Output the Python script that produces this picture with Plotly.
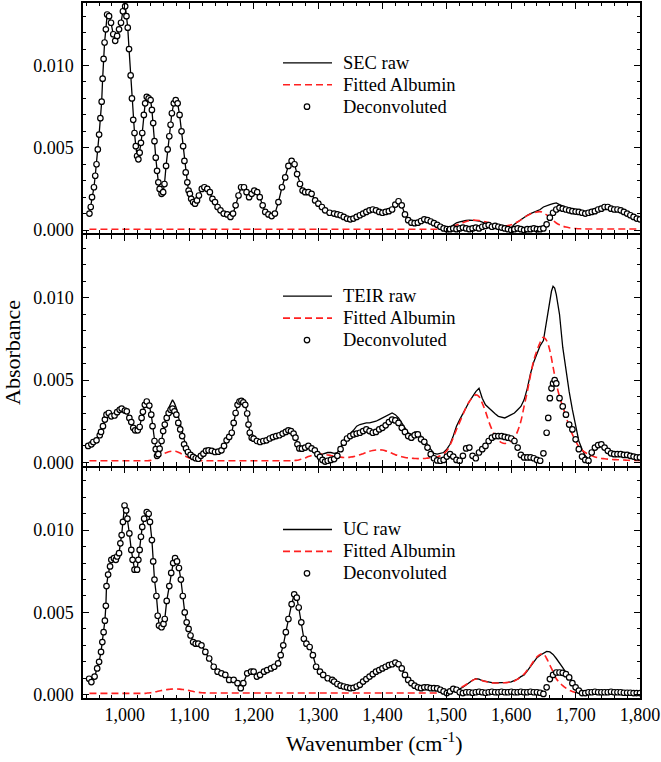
import plotly.graph_objects as go

# ---------------- data (absorbance in units of 1e-3) -------------
# common wavenumber grid used for the fitted albumin curves (cm^-1)
grid = list(range(945, 1801, 5))

# --- SEC panel: densely read region (945-1318) followed by 5 cm^-1 grid ---
sec_x = [945, 947, 949, 952, 954, 956, 958, 960, 962, 964, 965.5, 967, 968.5, 970.5,
         972.5, 975.5, 978.5, 982, 985, 988, 991, 994, 997, 1000.5, 1002.5, 1004.5,
         1006.5, 1009, 1011, 1013, 1015, 1017, 1019, 1021, 1023, 1025, 1027, 1029.5,
         1031.5, 1034, 1037, 1040, 1042, 1044, 1046, 1048, 1050, 1052, 1054, 1057,
         1059.5, 1061.5, 1064, 1066.5, 1069, 1071, 1073, 1076, 1079, 1082, 1085, 1088,
         1090.5, 1092.5, 1094.5, 1097, 1099, 1101, 1103, 1106, 1109, 1112, 1115,
         1119.5, 1123.5, 1128, 1132, 1136, 1140, 1144, 1148.5, 1153.5, 1159, 1164,
         1168, 1172, 1176.5, 1180.5, 1185, 1189, 1193, 1197, 1201, 1205.5, 1209.5,
         1214, 1218, 1223, 1228, 1233, 1238.5, 1244, 1249, 1254, 1259, 1263.5, 1267.5,
         1272, 1276, 1280, 1285, 1290, 1295.5, 1300.5, 1306, 1311, 1318] + list(range(1325, 1801, 5))
sec_common = [
    1.0, 1.4, 2.0, 2.6, 3.3, 4.0, 4.9, 5.8, 6.8, 7.8, 9.2, 10.4, 11.4, 12.2,
    13.1, 13.0, 12.6, 11.9, 11.5, 11.8, 12.2, 12.6, 13.3, 13.6, 13.0, 12.3,
    11.0, 9.4, 8.0, 6.7, 5.9, 5.1, 4.5, 4.3, 4.7, 5.3, 5.9, 7.0,
    7.7, 8.1, 8.0, 7.9, 7.3, 6.5, 5.4, 4.4, 3.6, 2.9, 2.5, 2.2,
    2.3, 2.8, 3.9, 4.9, 5.7, 6.4, 7.1, 7.7, 7.9, 7.7, 7.0, 6.0,
    5.1, 4.2, 3.5, 2.9, 2.4, 2.2, 1.9, 1.7, 1.6, 1.8, 2.1,
    2.5, 2.6, 2.5, 2.3, 1.9, 1.7, 1.4, 1.2, 1.0, 0.95, 0.8,
    1.0, 1.5, 2.1, 2.6, 2.6, 2.3, 2.0, 2.2, 2.4, 2.3, 2.0,
    1.5, 1.1, 0.95, 0.85, 1.0, 1.7, 2.6, 3.2, 3.9, 4.2, 4.0, 3.4,
    2.8, 2.4, 2.3, 2.3, 2.2, 1.8, 1.6, 1.4, 1.2, 1.05]
sec_raw = sec_common + [
    1.0, 0.95, 0.9, 0.8,
    0.7, 0.65, 0.7, 0.8, 0.9, 1.0, 1.1, 1.2, 1.25, 1.2,
    1.1, 1.05, 1.1, 1.15, 1.25, 1.55, 1.75, 1.5, 0.95, 0.6,
    0.45, 0.42, 0.45, 0.55, 0.65, 0.6, 0.52, 0.42, 0.32, 0.2,
    0.1, 0.1, 0.15, 0.3, 0.44, 0.5, 0.55, 0.58, 0.6, 0.6,
    0.57, 0.55, 0.47, 0.4, 0.36, 0.33, 0.3, 0.27, 0.22, 0.18,
    0.15, 0.15, 0.35, 0.5, 0.65, 0.78, 0.9, 1.0, 1.08, 1.15,
    1.25, 1.4, 1.5, 1.55, 1.6, 1.65, 1.55, 1.45, 1.35, 1.25,
    1.18, 1.12, 1.1, 1.05, 1.0, 1.05, 1.1, 1.15, 1.25, 1.3,
    1.4, 1.4, 1.3, 1.25, 1.25, 1.2, 1.1, 1.0, 0.9, 0.8,
    0.7, 0.65]
sec_decon = sec_common + [
    1.0, 0.95, 0.9, 0.8,
    0.7, 0.65, 0.7, 0.8, 0.9, 1.0, 1.1, 1.2, 1.25, 1.2,
    1.1, 1.05, 1.1, 1.15, 1.25, 1.55, 1.75, 1.5, 0.95, 0.6,
    0.45, 0.42, 0.45, 0.55, 0.65, 0.6, 0.52, 0.42, 0.32, 0.2,
    0.1, 0.05, 0.05, 0.1, 0.05, 0.1, 0.15, 0.1, 0.05, 0.1,
    0.15, 0.1, 0.2, 0.25, 0.3, 0.2, 0.25, 0.2, 0.15, 0.1,
    0.05, 0.0, 0.05, 0.1, 0.05, 0.0, 0.05, 0.05, 0.1, 0.05,
    0.05, 0.1, 0.35, 0.75, 1.05, 1.25, 1.35, 1.3, 1.25, 1.2,
    1.15, 1.12, 1.1, 1.05, 1.0, 1.05, 1.1, 1.15, 1.25, 1.3,
    1.4, 1.4, 1.3, 1.25, 1.25, 1.2, 1.1, 1.0, 0.9, 0.8,
    0.7, 0.65]
sec_albumin = [
    0.05, 0.05, 0.05, 0.05, 0.05, 0.05, 0.05, 0.05, 0.05, 0.05,
    0.05, 0.05, 0.05, 0.05, 0.05, 0.05, 0.05, 0.05, 0.05, 0.05,
    0.05, 0.05, 0.05, 0.05, 0.05, 0.05, 0.05, 0.05, 0.05, 0.05,
    0.05, 0.05, 0.05, 0.05, 0.05, 0.05, 0.05, 0.05, 0.05, 0.05,
    0.05, 0.05, 0.05, 0.05, 0.05, 0.05, 0.05, 0.05, 0.05, 0.05,
    0.05, 0.05, 0.05, 0.05, 0.05, 0.05, 0.05, 0.05, 0.05, 0.05,
    0.05, 0.05, 0.05, 0.05, 0.05, 0.05, 0.05, 0.05, 0.05, 0.05,
    0.05, 0.05, 0.05, 0.05, 0.05, 0.05, 0.05, 0.05, 0.05, 0.05,
    0.05, 0.05, 0.05, 0.05, 0.05, 0.05, 0.05, 0.05, 0.05, 0.05,
    0.05, 0.05, 0.05, 0.05, 0.05, 0.05, 0.05, 0.05, 0.05, 0.05,
    0.05, 0.05, 0.05, 0.05, 0.05, 0.05, 0.05, 0.05, 0.05, 0.06,
    0.08, 0.1, 0.15, 0.22, 0.3, 0.38, 0.45, 0.52, 0.57, 0.6,
    0.6, 0.58, 0.54, 0.5, 0.45, 0.4, 0.35, 0.3, 0.26, 0.25,
    0.27, 0.32, 0.4, 0.5, 0.62, 0.75, 0.88, 0.98, 1.05, 1.1,
    1.12, 1.05, 0.92, 0.75, 0.58, 0.43, 0.32, 0.24, 0.18, 0.14,
    0.11, 0.09, 0.08, 0.07, 0.07, 0.06, 0.06, 0.06, 0.06, 0.06,
    0.06, 0.06, 0.06, 0.06, 0.06, 0.06, 0.06, 0.06, 0.06, 0.06,
    0.06, 0.06]

# --- TEIR panel: densely read region (943-1315), 5 cm^-1 grid, extra readings at 1,655-1,670 ---
teir_x = [943, 948, 951, 956, 961, 963, 966, 969, 971.5, 975,
          979, 984, 988, 992, 995, 1000, 1003, 1007, 1010, 1013,
          1016, 1020, 1023, 1026, 1028, 1031, 1034, 1038, 1041, 1043,
          1046, 1048, 1050, 1052, 1054, 1057, 1059.5, 1062, 1065, 1068,
          1071, 1074, 1077, 1080, 1083, 1086, 1089, 1092, 1095, 1098,
          1102, 1106, 1110, 1114, 1118, 1122, 1126, 1130, 1135, 1140,
          1145, 1150, 1154, 1158, 1162, 1166, 1169, 1172, 1175, 1178,
          1181, 1184, 1187, 1190, 1192, 1194, 1197, 1200, 1205, 1210,
          1215, 1220, 1225, 1230, 1235, 1240, 1245, 1250, 1254, 1258,
          1262, 1265, 1268, 1271, 1275, 1280, 1285, 1290, 1295, 1299,
          1303, 1307, 1311, 1315] + list(range(1320, 1651, 5)) + \
         [1655, 1657.5, 1660, 1662.5, 1665, 1667.5, 1670] + list(range(1675, 1801, 5))
teir_raw = [
    1.0, 1.1, 1.24, 1.34, 1.65, 1.85, 2.2, 2.6, 2.9, 3.0,
    2.8, 2.85, 3.05, 3.2, 3.27, 3.15, 3.1, 2.7, 2.45, 2.1,
    1.95, 1.95, 2.15, 2.7, 3.07, 3.5, 3.7, 3.45, 2.9, 2.2,
    1.3, 0.8, 0.4, 0.5, 0.83, 1.3, 1.9, 2.4, 2.9, 3.3,
    3.6, 3.8, 3.6, 3.3, 2.8, 2.4, 1.9, 1.4, 1.0, 0.7,
    0.5, 0.33, 0.25, 0.22, 0.4, 0.53, 0.7, 0.73, 0.7, 0.63,
    0.65, 0.73, 1.0, 1.34, 1.55, 1.8, 2.4, 3.0, 3.5, 3.7,
    3.74, 3.65, 3.5, 2.97, 2.3, 1.8, 1.5, 1.44, 1.3, 1.24,
    1.3, 1.34, 1.45, 1.54, 1.6, 1.65, 1.75, 1.85, 1.95, 1.9,
    1.75, 1.5, 1.1, 0.85, 0.83, 0.9, 1.0, 0.85, 0.73, 0.55,
    0.5, 0.5, 0.55, 0.6,
    0.6, 0.55, 0.6, 0.9, 1.3,
    1.55, 1.75, 1.95, 2.2, 2.3, 2.35, 2.4, 2.4, 2.45, 2.5,
    2.6, 2.7, 2.8, 2.9, 3.0, 2.9, 2.7, 2.4, 2.1, 1.8,
    1.7, 1.85, 1.85, 1.6, 1.4, 1.1, 0.8, 0.55, 0.5, 0.55,
    0.6, 0.8, 1.1, 1.6, 2.2, 2.6, 3.0, 3.3, 3.7, 4.0,
    4.3, 4.5, 3.9, 3.5, 3.3, 3.1, 2.95, 2.8, 2.75, 2.7,
    2.8, 2.9, 3.0, 3.2, 3.4, 3.8, 4.5, 5.4, 6.1, 6.6,
    7.1, 7.4,
    8.7, 9.3, 9.9, 10.4, 10.7, 10.6, 10.2,
    9.0, 7.0, 5.6, 4.3,
    3.2, 2.2, 1.3, 0.8, 0.4, 0.2, 0.6, 0.9, 1.05, 1.1,
    0.9, 0.7, 0.55, 0.5, 0.5, 0.5, 0.45, 0.45, 0.4, 0.35,
    0.3, 0.3]
teir_decon = [
    1.0, 1.1, 1.24, 1.34, 1.65, 1.85, 2.2, 2.6, 2.9, 3.0,
    2.8, 2.85, 3.05, 3.2, 3.27, 3.15, 3.1, 2.7, 2.45, 2.1,
    1.95, 1.95, 2.15, 2.7, 3.07, 3.5, 3.7, 3.45, 2.9, 2.2,
    1.3, 0.8, 0.4, 0.5, 0.83, 1.3, 1.9, 2.3, 2.7, 3.0,
    3.2, 3.27, 3.1, 2.9, 2.4, 2.0, 1.6, 1.1, 0.85, 0.63,
    0.45, 0.33, 0.25, 0.22, 0.4, 0.53, 0.7, 0.73, 0.7, 0.63,
    0.65, 0.73, 1.0, 1.34, 1.55, 1.8, 2.4, 3.0, 3.5, 3.7,
    3.74, 3.65, 3.5, 2.97, 2.3, 1.8, 1.5, 1.44, 1.3, 1.24,
    1.3, 1.34, 1.45, 1.54, 1.6, 1.65, 1.75, 1.85, 1.95, 1.9,
    1.75, 1.5, 1.1, 0.85, 0.83, 0.9, 1.0, 0.85, 0.73, 0.5,
    0.33, 0.15, 0.05, 0.1,
    0.15, 0.2, 0.4, 0.8, 1.2,
    1.45, 1.6, 1.7, 1.75, 1.8, 1.9, 2.0, 1.9, 1.8, 1.85,
    2.0, 2.1, 2.25, 2.45, 2.6, 2.55, 2.4, 2.1, 1.85, 1.6,
    1.5, 1.65, 1.7, 1.4, 1.25, 0.9, 0.5, 0.25, 0.12, 0.1,
    0.15, 0.35, 0.5, 0.35, 0.15, 0.1, 0.4, 0.85, 0.9, 0.4,
    0.25, 0.6, 0.8, 1.0, 1.3, 1.5, 1.6, 1.6, 1.6, 1.55,
    1.5, 1.45, 1.3, 0.9, 0.45, 0.3, 0.3, 0.3, 0.25, 0.15,
    0.1, 0.55,
    1.8, 2.7, 3.9, 4.5, 4.8, 5.0, 4.8,
    3.9, 3.4, 2.9, 2.3,
    2.0, 1.4, 0.8, 0.35, 0.15, 0.1, 0.6, 0.9, 1.05, 1.1,
    0.9, 0.7, 0.55, 0.5, 0.5, 0.5, 0.45, 0.45, 0.4, 0.35,
    0.3, 0.3]
teir_albumin = [
    0.1, 0.1, 0.1, 0.1, 0.1, 0.1, 0.1, 0.1, 0.1, 0.1,
    0.1, 0.1, 0.1, 0.1, 0.1, 0.1, 0.1, 0.1, 0.1, 0.12,
    0.18, 0.28, 0.4, 0.52, 0.6, 0.66, 0.68, 0.66, 0.58, 0.47,
    0.36, 0.27, 0.2, 0.15, 0.12, 0.1, 0.1, 0.1, 0.1, 0.1,
    0.1, 0.1, 0.1, 0.1, 0.1, 0.1, 0.1, 0.1, 0.1, 0.1,
    0.1, 0.1, 0.1, 0.1, 0.1, 0.1, 0.1, 0.1, 0.1, 0.1,
    0.1, 0.1, 0.1, 0.1, 0.12, 0.15, 0.2, 0.27, 0.35, 0.42,
    0.47, 0.5, 0.5, 0.48, 0.45, 0.42, 0.38, 0.35, 0.32, 0.3,
    0.3, 0.32, 0.35, 0.4, 0.46, 0.53, 0.6, 0.67, 0.72, 0.75,
    0.76, 0.75, 0.7, 0.63, 0.55, 0.47, 0.4, 0.34, 0.3, 0.27,
    0.25, 0.24, 0.23, 0.23, 0.24, 0.26, 0.28, 0.3, 0.33, 0.4,
    0.52, 0.7, 1.05, 1.5, 2.0, 2.45, 2.9, 3.35, 3.7, 3.95,
    4.1, 4.0, 3.6, 3.1, 2.5, 2.0, 1.6, 1.35, 1.2, 1.15,
    1.2, 1.3, 1.5, 1.9, 2.5, 3.4, 4.3, 5.3, 6.2, 6.8,
    7.3, 7.6, 7.4, 6.8, 5.8, 4.8, 4.0, 3.4, 2.8, 2.2,
    1.7, 1.3, 0.95, 0.75, 0.6, 0.5, 0.4, 0.33, 0.28, 0.24,
    0.22, 0.2, 0.18, 0.17, 0.16, 0.15, 0.14, 0.13, 0.12, 0.12,
    0.12, 0.12]

# --- UC panel: densely read region (944-1322) followed by 5 cm^-1 grid ---
uc_x = [944.5, 948, 953, 957, 960, 963, 965, 967, 969, 970.5, 971.5, 974, 977, 979,
        983, 986, 988, 991, 993, 995, 997, 999.5, 1002, 1004, 1007, 1010, 1012, 1015,
        1019, 1021, 1023, 1025, 1027, 1030, 1034, 1037, 1039, 1042, 1044, 1046, 1049,
        1051, 1053, 1057, 1060, 1062, 1065, 1069, 1072, 1075, 1078, 1081, 1084, 1087,
        1090, 1093, 1096, 1099, 1102, 1106, 1110, 1114, 1119, 1125, 1131, 1138, 1144,
        1150, 1156, 1162, 1169, 1175, 1180, 1184, 1190, 1196, 1200, 1205, 1210, 1216,
        1221, 1227, 1232, 1238, 1242, 1246, 1250, 1254, 1259, 1263, 1267, 1270, 1274,
        1278, 1282, 1287, 1292, 1297, 1303, 1308, 1315, 1322] + list(range(1325, 1801, 5))
uc_common = [
    0.97, 0.77, 1.1, 1.6, 2.0, 2.6, 3.2, 3.8, 4.5, 5.4, 6.6, 7.3, 7.8, 8.2,
    8.3, 8.2, 8.4, 8.6, 9.2, 9.7, 10.5, 11.5, 11.2, 10.7, 9.8, 8.8, 8.2, 7.6,
    7.6, 8.2, 8.8, 9.6, 10.2, 10.7, 11.1, 11.0, 10.5, 9.4, 8.1, 7.0, 6.0,
    4.8, 4.2, 4.1, 4.3, 4.6, 5.7, 6.6, 7.4, 8.0, 8.3, 8.1, 7.7, 7.0,
    6.0, 5.0, 4.4, 4.0, 3.6, 3.2, 3.1, 3.1, 3.0, 2.6, 2.2, 1.7, 1.4,
    1.3, 1.2, 0.9, 0.9, 0.7, 0.4, 0.7, 1.3, 1.4, 1.4, 1.1, 1.2, 1.4,
    1.5, 1.6, 1.7, 1.9, 2.4, 3.0, 3.8, 4.6, 5.5, 6.1, 5.9, 5.3, 4.4,
    3.4, 3.1, 2.9, 2.4, 1.7, 1.4, 1.2, 1.0, 0.9]
uc_tail_common = [
    0.8, 0.65, 0.55, 0.5,
    0.45, 0.4, 0.42, 0.5, 0.6, 0.8, 0.95, 1.1, 1.25, 1.4,
    1.5, 1.6, 1.7, 1.8, 1.85, 1.95, 1.85, 1.6, 1.2, 0.9,
    0.7, 0.55, 0.45, 0.4, 0.45, 0.45, 0.4, 0.4, 0.38, 0.3,
    0.2, 0.1, 0.2, 0.35, 0.3]
uc_raw = uc_common + uc_tail_common + [
    0.35, 0.45, 0.6, 0.75, 0.88,
    0.97, 0.95, 0.85, 0.8, 0.75, 0.73, 0.72, 0.72, 0.73, 0.73,
    0.75, 0.78, 0.85, 0.95, 1.1, 1.2, 1.45, 1.7, 2.0, 2.25,
    2.4, 2.5, 2.63, 2.6, 2.45, 2.2, 1.95, 1.65, 1.35, 1.05,
    0.7, 0.45, 0.2, 0.1, 0.1, 0.15, 0.15, 0.18, 0.15, 0.15,
    0.15, 0.15, 0.18, 0.15, 0.15, 0.15, 0.12, 0.12, 0.12, 0.1,
    0.1, 0.1]
uc_decon = uc_common + uc_tail_common + [
    0.15, 0.1, 0.15, 0.15, 0.12,
    0.15, 0.18, 0.15, 0.12, 0.15, 0.18, 0.15, 0.15, 0.18, 0.15,
    0.15, 0.18, 0.15, 0.15, 0.18, 0.15, 0.15, 0.18, 0.15, 0.15,
    0.12, 0.05, 0.45, 0.95, 1.2, 1.35, 1.35, 1.33, 1.25, 1.05,
    0.7, 0.45, 0.25, 0.1, 0.1, 0.15, 0.15, 0.18, 0.15, 0.15,
    0.15, 0.15, 0.18, 0.15, 0.15, 0.15, 0.12, 0.12, 0.12, 0.1,
    0.1, 0.1]
uc_albumin = [
    0.08, 0.08, 0.08, 0.08, 0.08, 0.08, 0.08, 0.08, 0.08, 0.08,
    0.08, 0.08, 0.08, 0.08, 0.08, 0.08, 0.08, 0.08, 0.1, 0.12,
    0.15, 0.2, 0.24, 0.28, 0.31, 0.33, 0.35, 0.35, 0.34, 0.32,
    0.29, 0.25, 0.21, 0.17, 0.14, 0.12, 0.11, 0.1, 0.1, 0.1,
    0.1, 0.1, 0.1, 0.1, 0.1, 0.1, 0.1, 0.1, 0.1, 0.1,
    0.1, 0.1, 0.1, 0.1, 0.1, 0.1, 0.1, 0.1, 0.1, 0.1,
    0.1, 0.1, 0.1, 0.1, 0.1, 0.1, 0.1, 0.1, 0.1, 0.1,
    0.1, 0.1, 0.1, 0.1, 0.1, 0.1, 0.1, 0.1, 0.1, 0.1,
    0.1, 0.1, 0.1, 0.1, 0.1, 0.1, 0.1, 0.1, 0.1, 0.1,
    0.1, 0.1, 0.1, 0.1, 0.1, 0.1, 0.1, 0.1, 0.1, 0.1,
    0.1, 0.1, 0.1, 0.1, 0.1, 0.1, 0.1, 0.1, 0.1, 0.1,
    0.1, 0.12, 0.15, 0.22, 0.3, 0.4, 0.5, 0.62, 0.75, 0.87,
    0.95, 0.95, 0.87, 0.8, 0.75, 0.72, 0.71, 0.71, 0.72, 0.73,
    0.75, 0.78, 0.84, 0.95, 1.1, 1.25, 1.5, 1.75, 2.05, 2.3,
    2.45, 2.5, 2.2, 1.8, 1.4, 0.97, 0.75, 0.55, 0.4, 0.28,
    0.2, 0.13, 0.11, 0.1, 0.1, 0.1, 0.1, 0.1, 0.1, 0.1,
    0.1, 0.1, 0.1, 0.1, 0.1, 0.1, 0.1, 0.1, 0.1, 0.1,
    0.1, 0.1]

raw_names = ["SEC raw", "TEIR raw", "UC raw"]
scale = 1e-3  # values above are in 1e-3 absorbance units

panels = [
    (sec_x, sec_raw, sec_albumin, sec_decon),
    (teir_x, teir_raw, teir_albumin, teir_decon),
    (uc_x, uc_raw, uc_albumin, uc_decon),
]
for px_, r_, a_, d_ in panels:
    assert len(r_) == len(px_), (len(r_), len(px_))
    assert len(d_) == len(px_), (len(d_), len(px_))
    assert len(a_) == len(grid), len(a_)

FONT = "Liberation Serif, Times New Roman, Tinos, DejaVu Serif, serif"
fig = go.Figure()

for i, ((xs, raw, alb, dec), name) in enumerate(zip(panels, raw_names)):
    xa = "x" if i == 0 else f"x{i+1}"
    ya = "y" if i == 0 else f"y{i+1}"
    fig.add_trace(go.Scatter(
        x=xs, y=[v * scale for v in raw], name=name, mode="lines",
        line=dict(color="black", width=1.3), xaxis=xa, yaxis=ya, showlegend=False))
    fig.add_trace(go.Scatter(
        x=grid, y=[v * scale for v in alb], name="Fitted Albumin",
        mode="lines", line=dict(color="#ff2020", width=1.6, dash="7px,4px", shape="spline"),
        xaxis=xa, yaxis=ya, showlegend=False))
    fig.add_trace(go.Scatter(
        x=xs, y=[v * scale for v in dec], name="Deconvoluted",
        mode="markers",
        marker=dict(symbol="circle", size=5.5, color="white",
                    line=dict(color="black", width=1.2)),
        xaxis=xa, yaxis=ya, showlegend=False))

H = 697.0
W = 557.0
domains = [[466 / H, 1.0], [233 / H, 464 / H], [0.0, 231 / H]]

axis_common = dict(
    showline=True, linecolor="black", linewidth=1.5, mirror="allticks",
    ticks="inside", tickcolor="black", tickwidth=1.2, showgrid=False,
    zeroline=False,
    tickfont=dict(family=FONT, size=18, color="black"),
)

layout = dict(
    width=661, height=762,
    margin=dict(l=83, r=21, t=1, b=64),
    paper_bgcolor="white", plot_bgcolor="white",
    font=dict(family=FONT, size=18, color="black"),
    showlegend=False,
)
for i in range(3):
    xk = "xaxis" if i == 0 else f"xaxis{i+1}"
    yk = "yaxis" if i == 0 else f"yaxis{i+1}"
    xa = "x" if i == 0 else f"x{i+1}"
    ya = "y" if i == 0 else f"y{i+1}"
    layout[xk] = dict(
        axis_common, domain=[0, 1], anchor=ya, range=[935, 1800],
        tick0=0, dtick=100, ticklen=6, tickformat=",d",
        showticklabels=(i == 2),
        minor=dict(ticks="inside", dtick=20, tick0=0, ticklen=3.5,
                   tickcolor="black", tickwidth=1),
    )
    layout[yk] = dict(
        axis_common, domain=domains[i], anchor=xa,
        range=[-0.0002, 0.0138], tick0=0, dtick=0.005, tickformat=".3f",
        ticklen=6, ticklabelstandoff=4,
        minor=dict(ticks="inside", dtick=0.001, tick0=0, ticklen=3.5,
                   tickcolor="black", tickwidth=1),
    )
fig.update_layout(**layout)

# ---- per-panel legends (sample marks + labels), positioned as in the original ----
legend_rows = [(61, 83, 105), (295, 317, 339), (529, 551, 573)]
labels_per_panel = [(n, "Fitted Albumin", "Deconvoluted") for n in raw_names]


def px2x(p):
    return (p - 83) / W


def py2y(p):
    return (698 - p) / H


for rows, labels in zip(legend_rows, labels_per_panel):
    r1, r2, r3 = rows
    fig.add_shape(type="line", xref="paper", yref="paper",
                  x0=px2x(283), x1=px2x(332), y0=py2y(r1), y1=py2y(r1),
                  line=dict(color="black", width=1.3))
    fig.add_shape(type="line", xref="paper", yref="paper",
                  x0=px2x(283), x1=px2x(332), y0=py2y(r2), y1=py2y(r2),
                  line=dict(color="#ff2020", width=1.6, dash="7px,4px"))
    fig.add_shape(type="circle", xref="paper", yref="paper",
                  xsizemode="pixel", ysizemode="pixel",
                  xanchor=px2x(307), yanchor=py2y(r3),
                  x0=-2.75, x1=2.75, y0=-2.75, y1=2.75,
                  fillcolor="white", line=dict(color="black", width=1.2))
    for r, lab in zip(rows, labels):
        fig.add_annotation(text=lab, xref="paper", yref="paper",
                           x=px2x(341), y=py2y(r), xanchor="left", yanchor="middle",
                           showarrow=False,
                           font=dict(family=FONT, size=18.5, color="black"))

fig.add_annotation(
    text="Absorbance", textangle=-90, xref="paper", yref="paper",
    x=px2x(13), y=py2y(352), xanchor="center", yanchor="middle",
    showarrow=False, font=dict(family=FONT, size=22, color="black"))
fig.add_annotation(
    text="Wavenumber (cm<sup>-1</sup>)", xref="paper", yref="paper",
    x=px2x(374), y=py2y(742), xanchor="center", yanchor="middle",
    showarrow=False, font=dict(family=FONT, size=22, color="black"))

fig.write_html("out.html")
